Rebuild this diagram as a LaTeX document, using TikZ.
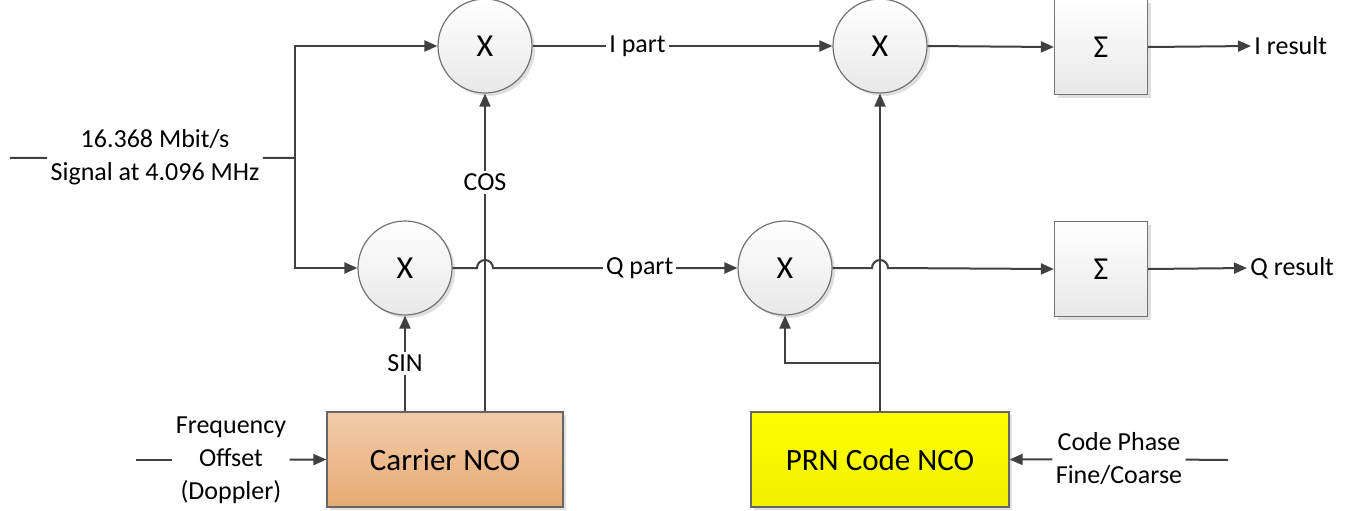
\documentclass[tikz,border=0pt]{standalone}
\usepackage{fontspec}
\setmainfont{Carlito}
\usetikzlibrary{arrows.meta,shadows}
\definecolor{wire}{HTML}{404040}
\definecolor{ncoorange}{HTML}{E8AA72}
\definecolor{nconyellow}{HTML}{F0F000}
\begin{document}
\begin{tikzpicture}[x=0.5pt,y=-0.5pt,
    line/.style={draw=wire,line width=1pt},
    arr/.style={line,-{Triangle[length=6.5pt,width=5.5pt]}},
    shade/.style={drop shadow={shadow xshift=1.5pt,shadow yshift=-1.5pt,opacity=0.25}},
    mixer/.style={circle,draw=black!55,line width=0.6pt,top color=white,bottom color=black!9,
        minimum size=47pt,inner sep=0pt,font=\fontsize{16}{19}\selectfont,shade},
    sumbox/.style={draw=black!55,line width=0.6pt,top color=white,bottom color=black!9,
        minimum width=46.5pt,minimum height=47.5pt,inner sep=0pt,font=\fontsize{16}{19}\selectfont,shade},
    ncobox/.style={draw=black!60,line width=0.6pt,minimum height=47.5pt,inner sep=0pt,
        font=\fontsize{15.5}{18}\selectfont,shade},
    lbl/.style={fill=white,inner sep=1.5pt,font=\fontsize{13}{16.5}\selectfont,align=center}
]
\useasboundingbox (0,0) rectangle (1349,510);

% mixers and accumulators
\node[mixer] (mixI) at (485,46) {X};
\node[mixer] (mixQ) at (405,268) {X};
\node[mixer] (corrI) at (880,46) {X};
\node[mixer] (corrQ) at (785,268) {X};
\node[sumbox] (sumI) at (1101,47) {Σ};
\node[sumbox] (sumQ) at (1101,269) {Σ};

% oscillators
\node[ncobox,minimum width=118pt,top color=ncoorange!60,bottom color=ncoorange] (carrier) at (445,459.5) {Carrier NCO};
\node[ncobox,minimum width=129pt,top color=yellow,bottom color=nconyellow] (prn) at (880,459.5) {PRN Code NCO};

% input and side labels
\coordinate (in) at (10,158);
\coordinate (split) at (295,158);
\node[lbl] (src) at (155,157) {16.368 Mbit/s\\Signal at 4.096 MHz};
\coordinate (fin) at (136,460);
\node[lbl] (freq) at (231,460) {Frequency\\Offset\\(Doppler)};
\coordinate (cin) at (1228,460);
\node[lbl] (phase) at (1119,459) {Code Phase\\Fine/Coarse};
\node[lbl,anchor=west] (resI) at (1251,46) {I result};
\node[lbl,anchor=west] (resQ) at (1247,268) {Q result};
\coordinate (tap) at (880,363);

\draw[line] (in) -- (src);
\draw[line] (src) -- (split);
\draw[arr] (split) |- (mixI.west);
\draw[arr] (split) |- (mixQ.west);

\draw[line] (fin) -- (freq);
\draw[arr] (freq) -- (carrier.west);
\draw[line] (cin) -- (phase);
\draw[arr] (phase) -- (prn.east);

% carrier wiping
\draw[arr] (carrier.north -| mixQ) -- node[lbl,pos=0.5] {SIN} (mixQ.south);
\draw[arr] (carrier.north -| mixI) -- node[lbl,pos=0.72] {COS} (mixI.south);
\draw[arr] (mixI.east) -- node[lbl,pos=0.35] {I part} (corrI.west);
\draw[arr] (mixQ.east) -- ([xshift=-4pt]mixI.south |- mixQ.east)
    arc[start angle=180,end angle=0,radius=4pt]
    -- node[lbl,pos=0.6] {Q part} (corrQ.west);

% code wiping
\draw[arr] (prn.north) -- (corrI.south);
\draw[arr] (tap) -| (corrQ.south);
\draw[arr] (corrI.east) -- (sumI.west);
\draw[arr] (corrQ.east) -- ([xshift=-4pt]corrI.south |- corrQ.east)
    arc[start angle=180,end angle=0,radius=4pt] -- (sumQ.west);
\draw[arr] (sumI.east) -- (resI.west);
\draw[arr] (sumQ.east) -- (resQ.west);
\end{tikzpicture}
\end{document}
